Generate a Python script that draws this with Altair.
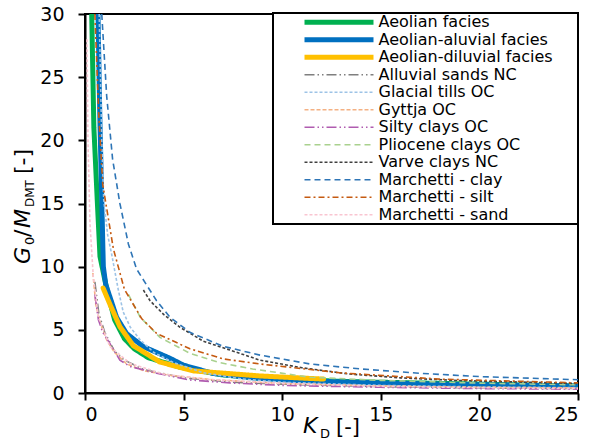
import altair as alt
import pandas as pd

# ---------------- data ----------------
series_names = [
    "Aeolian facies", "Aeolian-aluvial facies", "Aeolian-diluvial facies",
    "Alluvial sands NC", "Glacial tills OC", "Gyttja OC", "Silty clays OC",
    "Pliocene clays OC", "Varve clays NC", "Marchetti - clay",
    "Marchetti - silt", "Marchetti - sand",
]
colors = ["#00b050", "#0070c0", "#ffc000", "#7f7f7f", "#9dc3e6", "#f4b183",
          "#b05cb0", "#a9d18e", "#404040", "#2e75b6", "#c55a11", "#f9c5d1"]
dashes = [[1, 0], [1, 0], [1, 0], [10, 3, 1.5, 3, 1.5, 3], [3, 2], [4, 2],
          [10, 3, 1.5, 3, 1.5, 3], [6, 4], [3, 2], [6, 4], [6, 3, 2, 3], [3, 2]]
widths = [5, 5, 5, 1.6, 1.6, 1.6, 1.6, 1.6, 1.6, 1.6, 1.6, 1.6]

aeolian_k = [0.34, 0.45, 0.62, 0.76, 1.0, 1.2, 1.5, 2.0, 2.5, 3.2, 4.8, 6.9, 8.9, 13.4, 25]
aeolian_g = [30, 21, 15.3, 10.8, 9.0, 7.6, 5.8, 4.3, 3.5, 2.8, 2.05, 1.45, 1.16, 0.9, 0.55]

aluvial_k = [0.66, 0.75, 0.85, 0.93, 1.05, 1.35, 1.6, 2.11, 2.96, 4.31, 5.0, 6.5, 8.5, 10.5, 12.5, 18, 25]
aluvial_g = [30, 22, 15.3, 10, 8.6, 7.2, 6.0, 4.7, 3.67, 2.75, 2.2, 1.55, 1.2, 1.0, 0.9, 0.7, 0.55]

diluvial_k = [0.92, 1.27, 1.77, 2.45, 3.8, 5.5, 8.87, 12.1]
diluvial_g = [8.3, 7.0, 5.25, 3.75, 2.45, 1.75, 1.35, 1.1]

alluvial_sands_k = [0.5, 0.7, 1.0, 1.5, 2.0, 3.0, 5.0, 7.5, 10, 15, 20, 25]
alluvial_sands_g = [8.8, 6.3, 4.8, 3.3, 2.6, 1.85, 1.2, 0.85, 0.7, 0.5, 0.4, 0.35]

glacial_k = [0.72, 0.85, 0.95, 1.15, 1.35, 1.69, 1.94, 2.3, 2.8, 3.5, 4.5, 6, 8, 10, 15, 20, 25]
glacial_g = [30, 20, 15.3, 12.5, 11.0, 8.15, 6.4, 5.2, 4.2, 3.2, 2.4, 1.6, 1.1, 0.85, 0.6, 0.48, 0.42]

gyttja_k = [0.4, 0.55, 0.76, 1.1, 1.5, 2.11, 3.0, 4.31, 6.5, 10, 15, 20, 25]
gyttja_g = [9.5, 7.0, 5.6, 4.2, 3.2, 2.3, 1.75, 1.4, 1.05, 0.75, 0.55, 0.45, 0.4]

silty_k = [0.5, 0.68, 0.9, 1.27, 1.77, 2.28, 3.63, 5.32, 7.35, 10, 15, 20, 25]
silty_g = [7.8, 5.8, 4.8, 3.9, 2.6, 2.1, 1.56, 1.03, 0.8, 0.6, 0.45, 0.35, 0.3]

pliocene_k = [2.2, 2.8, 3.8, 5.32, 6.85, 8.5, 11.4, 15, 20, 25]
pliocene_g = [7.8, 6.0, 4.4, 3.14, 2.4, 1.9, 1.25, 1.0, 0.78, 0.65]

varve_k = [2.96, 3.3, 4.0, 4.82, 6.0, 7.35, 8.87, 11, 13.4, 16, 18.7, 25]
varve_g = [8.15, 7.3, 6.2, 5.2, 4.1, 3.4, 2.6, 2.0, 1.5, 1.2, 1.0, 0.75]

m_clay_k = [0.85, 1.1, 1.4, 1.77, 2.2, 2.62, 3.63, 4.31, 5.32, 7, 8.87, 11.4, 14, 17, 20, 25]
m_clay_g = [30, 23.5, 18.5, 15.0, 11.8, 9.8, 7.3, 6.0, 4.8, 3.7, 3.0, 2.3, 1.9, 1.56, 1.3, 1.05]

m_silt_k = [0.5, 0.7, 0.9, 1.44, 2.0, 2.87, 3.63, 5.32, 7, 8.87, 12.9, 18, 25]
m_silt_g = [30, 22, 16.5, 11.4, 8.2, 5.9, 4.72, 3.5, 2.7, 2.3, 1.6, 1.1, 0.8]

m_sand_k = [0.1, 0.15, 0.25, 0.42, 0.68, 1.27, 2.28, 3.97, 6, 10, 15, 20, 25]
m_sand_g = [28, 20, 13.5, 9.2, 6.0, 3.67, 2.35, 1.5, 1.1, 0.75, 0.53, 0.42, 0.35]

x_ticks = [0, 5, 10, 15, 20, 25]
y_ticks = [0, 5, 10, 15, 20, 25, 30]

all_k = [aeolian_k, aluvial_k, diluvial_k, alluvial_sands_k, glacial_k, gyttja_k,
         silty_k, pliocene_k, varve_k, m_clay_k, m_silt_k, m_sand_k]
all_g = [aeolian_g, aluvial_g, diluvial_g, alluvial_sands_g, glacial_g, gyttja_g,
         silty_g, pliocene_g, varve_g, m_clay_g, m_silt_g, m_sand_g]

rows = []
for i, (name, ks, gs) in enumerate(zip(series_names, all_k, all_g)):
    for k, g in zip(ks, gs):
        rows.append({"series": name, "sid": i, "K": k, "G": g})
df = pd.DataFrame(rows)
thick_df = df[df["sid"] < 3]
thin_df = df[df["sid"] >= 3]

FONT = "DejaVu Sans"
# blank (non-whitespace) padding so the legend box reaches its right edge
PAD = "\u2800" * 2

legend = alt.Legend(
    title=None, orient="none", legendX=188, legendY=-1,
    strokeColor="black", fillColor="white", padding=1,
    symbolType="M-1,0H22", symbolSize=36, symbolOffset=25.5,
    labelOffset=63, labelFont=FONT, labelFontSize=16, labelColor="black",
    labelLimit=500, rowPadding=0.5, clipHeight=16.5,
    labelExpr="datum.label + '" + PAD + "'",
)

axis_common = dict(grid=False, domainColor="black", domainWidth=2, tickColor="black",
                   tickWidth=2, tickSize=7, labelFont=FONT, labelFontSize=19,
                   labelColor="black", title=None)

x_enc = alt.X("K:Q", scale=alt.Scale(domain=[0, 25], nice=False),
              axis=alt.Axis(values=x_ticks, labelPadding=5, **axis_common))
y_enc = alt.Y("G:Q", scale=alt.Scale(domain=[0, 30], nice=False),
              axis=alt.Axis(values=y_ticks, labelPadding=14, **axis_common))
color_enc = alt.Color("series:N", scale=alt.Scale(domain=series_names, range=colors), legend=legend)
dash_enc = alt.StrokeDash("series:N", scale=alt.Scale(domain=series_names, range=dashes), legend=legend)
width_enc = alt.StrokeWidth("series:N", scale=alt.Scale(type="ordinal", domain=series_names, range=widths),
                            legend=legend)

thick = alt.Chart(thick_df).mark_line(clip=True, strokeCap="round", strokeJoin="round").encode(
    x=x_enc, y=y_enc, color=color_enc, strokeDash=dash_enc, strokeWidth=width_enc,
    detail="sid:N", order="K:Q")
thin = alt.Chart(thin_df).mark_line(clip=True).encode(
    x=x_enc, y=y_enc, color=color_enc, strokeDash=dash_enc, strokeWidth=width_enc,
    detail="sid:N", order="K:Q")

one = pd.DataFrame({"d": [0]})


def txt(t, x, y, size, style="normal", angle=0):
    return alt.Chart(one).mark_text(
        text=t, font=FONT, fontSize=size, fontStyle=style, align="left",
        baseline="alphabetic", angle=angle, color="black"
    ).encode(x=alt.value(x), y=alt.value(y))


titles = [
    # x title  K_D [-]
    txt("K", 218, 419, 22, "italic"),
    txt("D", 235, 424, 13),
    txt("[-]", 251, 420, 21),
    # y title  G0/M_DMT [-]
    txt("G", -55, 250, 22, "italic", 270),
    txt("0", -51, 231, 13, "normal", 270),
    txt("/", -55, 223, 22, "normal", 270),
    txt("M", -55, 214, 22, "italic", 270),
    txt("DMT", -51, 193, 12, "normal", 270),
    txt("[-]", -55, 160, 22, "normal", 270),
]

chart = alt.layer(thick, thin, *titles).properties(
    width=493, height=379,
    background="white",
    autosize=alt.AutoSizeParams(type="none"),
    padding={"left": 85, "top": 14, "right": 24, "bottom": 46},
).configure_view(
    stroke="black", strokeWidth=2
).configure_legend(
    strokeWidth=2
)

chart.save("out.html", embed_options={"renderer": "svg", "actions": False})
